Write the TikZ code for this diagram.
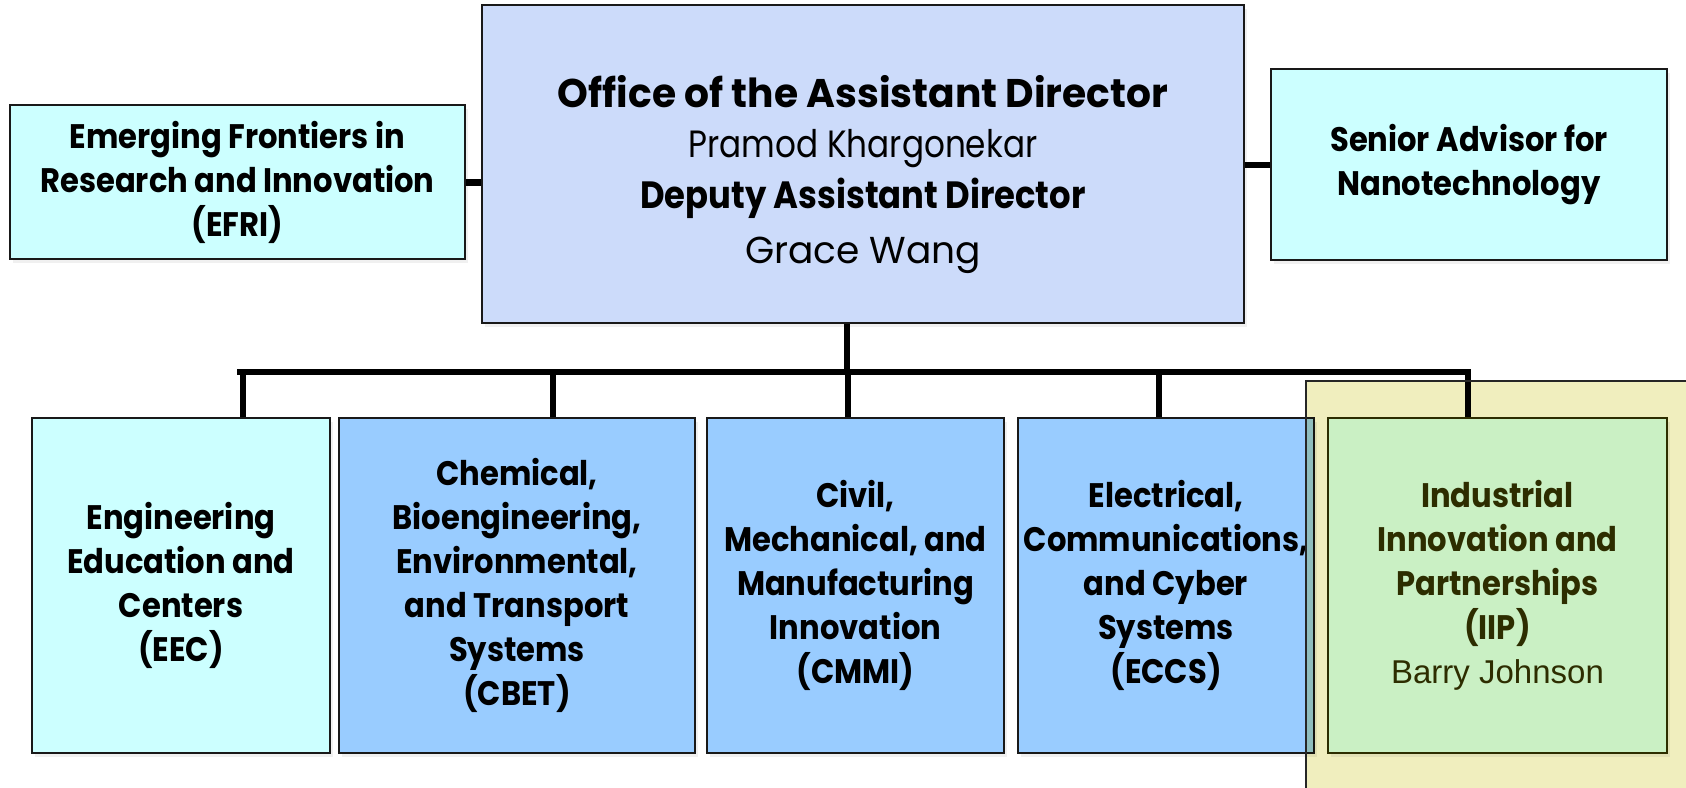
\documentclass[tikz,border=0pt]{standalone}
\usepackage{fontspec}
\setmainfont{Poppins}
\newfontfamily\pb[FakeStretch=0.9]{Poppins}
\newfontfamily\pbo[FakeStretch=0.98]{Poppins}
\newfontfamily\pbd[FakeStretch=0.89]{Poppins}
\newfontfamily\pr[FakeStretch=0.86]{Poppins}
\newfontfamily\prw{Poppins}
\newfontfamily\ar{Liberation Sans}
\usetikzlibrary{shadows}
\definecolor{topc}{RGB}{204,219,250}
\definecolor{cyanc}{RGB}{204,255,255}
\definecolor{bluec}{RGB}{153,204,255}
\definecolor{greenc}{RGB}{202,240,196}
\definecolor{yelc}{RGB}{240,238,190}
\definecolor{olivec}{RGB}{45,45,0}
\begin{document}
\begin{tikzpicture}[x=1pt,y=-1pt,
  box/.style={draw=black!90, line width=2.6pt, inner sep=0pt, align=center,
    drop shadow={shadow xshift=3pt,shadow yshift=-4pt,opacity=0.12}},
  lbl/.style={font={\pb\bfseries\fontsize{34}{44}\selectfont}},
  conn/.style={line width=6pt, black}]
\useasboundingbox (0,0) rectangle (1686,787);

% top row
\node[box, fill=topc, minimum width=762pt, minimum height=318pt] (top) at (863,164) {};
\node[anchor=base, font={\pbo\bfseries\fontsize{40}{44}\selectfont}] (t1) at (863,107) {Office of the Assistant Director};
\node[anchor=base, font={\pr\fontsize{38}{44}\selectfont}] (t2) at (863,157) {Pramod Khargonekar};
\node[anchor=base, font={\pbd\bfseries\fontsize{38}{44}\selectfont}] (t3) at (863,208) {Deputy Assistant Director};
\node[anchor=base, font={\prw\fontsize{37.5}{44}\selectfont}] (t4) at (863,263) {Grace Wang};

\node[box, lbl, fill=cyanc, minimum width=455pt, minimum height=154pt] (efri) at (237.5,182)
  {Emerging Frontiers in\\Research and Innovation\\(EFRI)};
\node[box, lbl, fill=cyanc, minimum width=396pt, minimum height=191pt] (senior) at (1469,164.5)
  {Senior Advisor for\\Nanotechnology};

\draw[line width=7pt] (efri.east) -- (efri.east -| top.west);
\draw[line width=6pt] (senior.west) -- (senior.west -| top.east);

% bottom row
\node[box, lbl, fill=cyanc, minimum width=298pt, minimum height=335pt] (eec) at (181,585.5)
  {Engineering\\Education and\\Centers\\(EEC)};
\node[box, lbl, fill=bluec, minimum width=356pt, minimum height=335pt] (cbet) at (517,585.5)
  {Chemical,\\Bioengineering,\\Environmental,\\and Transport\\Systems\\(CBET)};
\node[box, lbl, fill=bluec, minimum width=297pt, minimum height=335pt] (cmmi) at (855.5,585.5)
  {Civil,\\Mechanical, and\\Manufacturing\\Innovation\\(CMMI)};
\node[box, lbl, fill=bluec, minimum width=296pt, minimum height=335pt] (eccs) at (1166,585.5)
  {Electrical,\\Communications,\\and Cyber\\Systems\\(ECCS)};

% connectors
\coordinate (busL) at (237,372);
\coordinate (busR) at (1471,372);
\coordinate (v0) at (847,372);
\coordinate (d1) at (243,372);
\coordinate (d2) at (553,372);
\coordinate (d3) at (848,372);
\coordinate (d4) at (1159,372);
\coordinate (d5) at (1468,372);
\draw[conn] (v0 |- top.south) -- (v0);
\draw[conn] (busL) -- (busR);
\draw[conn, line width=5.5pt] (d1) -- (d1 |- eec.north);
\draw[conn, line width=5.5pt] (d2) -- (d2 |- cbet.north);
\draw[conn, line width=5.5pt] (d3) -- (d3 |- cmmi.north);
\draw[conn, line width=5.5pt] (d4) -- (d4 |- eccs.north);
\draw[conn, line width=5.5pt] (d5) -- (d5 |- eccs.north);

% highlight
\begin{scope}[blend mode=multiply]
\fill[yelc] (1306,381) rectangle (1700,800);
\end{scope}
\node[box, lbl, fill=greenc, draw=olivec, text=olivec, minimum width=339pt, minimum height=335pt] (iip) at (1497.5,585.5)
  {Industrial\\Innovation and\\Partnerships\\(IIP)\\{\ar\mdseries\fontsize{33}{44}\selectfont Barry Johnson}};
\draw[black!85, line width=2pt] (1306,800) |- (1700,381);
\end{tikzpicture}
\end{document}
